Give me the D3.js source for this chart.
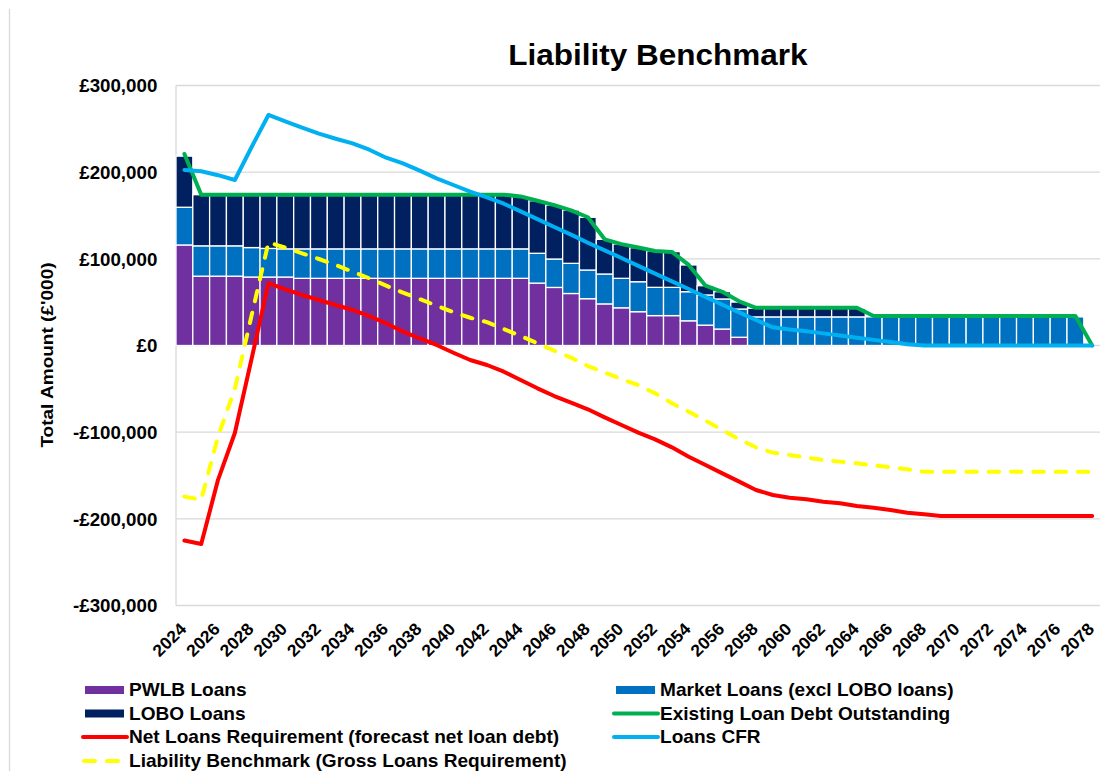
<!DOCTYPE html>
<html><head><meta charset="utf-8">
<script src="https://cdn.jsdelivr.net/npm/d3@7"></script>
<style>
body{margin:0;background:#fff;}
svg text{font-family:"Liberation Sans",Arial,sans-serif;font-weight:bold;fill:#000;}
</style>
</head><body>
<svg id="chart" width="1100" height="771"></svg>
<script>
// ---------------- DATA ----------------
const years = ["2024","2025","2026","2027","2028","2029","2030","2031","2032","2033","2034","2035","2036","2037","2038","2039","2040","2041","2042","2043","2044","2045","2046","2047","2048","2049","2050","2051","2052","2053","2054","2055","2056","2057","2058","2059","2060","2061","2062","2063","2064","2065","2066","2067","2068","2069","2070","2071","2072","2073","2074","2075","2076","2077","2078"];
const xTickLabels = ["2024","2026","2028","2030","2032","2034","2036","2038","2040","2042","2044","2046","2048","2050","2052","2054","2056","2058","2060","2062","2064","2066","2068","2070","2072","2074","2076","2078"];
const yTickValues = [300000,200000,100000,0,-100000,-200000,-300000];
const yTickLabels = ["£300,000","£200,000","£100,000","£0","-£100,000","-£200,000","-£300,000"];

const pwlb = [116000,80000,80000,80000,79000,79000,79000,77500,77500,77500,77500,77500,77500,77500,77500,77500,77500,77500,77500,77500,77500,72000,67000,60000,54000,48000,43500,39000,34500,34500,28500,23500,19000,9500,0,0,0,0,0,0,0,0,0,0,0,0,0,0,0,0,0,0,0,0,0];
const market = [43500,35000,35000,35000,34000,33000,32500,34000,34000,34000,34000,34000,34000,34000,34000,34000,34000,34000,34000,34000,34000,34400,32800,34800,33100,34500,34000,34600,32600,32600,33600,34800,34700,32600,33000,33000,33000,33000,33000,33000,33000,33000,33000,33000,33000,33000,33000,33000,33000,33000,33000,33000,33000,33000,0];
const lobo = [59000,59000,59000,59000,61500,61500,61500,62300,62300,62300,62300,62300,62300,62300,62300,62300,62300,62300,62300,62300,60400,60600,62200,61500,60800,40000,39600,39300,41900,41200,30800,10700,8400,8000,10000,10000,10000,10000,10000,10000,10000,0,0,0,0,0,0,0,0,0,0,0,0,0,0];
const existingDebt = [221000,174000,174000,174000,174000,174000,174000,174000,174000,174000,174000,174000,174000,174000,174000,174000,174000,174000,174000,174000,172000,167000,162000,156000,148000,122500,117000,113000,109000,108000,93000,69000,62000,51000,43500,43500,43500,43500,43500,43500,43500,34000,34000,34000,34000,34000,34000,34000,34000,34000,34000,34000,34000,34000,0];
const netLoansReq = [-225000,-229000,-155000,-101000,-15000,72000,64800,58300,52500,46700,41000,34000,25600,16000,8300,600,-8300,-16700,-22500,-30200,-39800,-49400,-58300,-66000,-73600,-82900,-91700,-100600,-108300,-117500,-128300,-137900,-147500,-157100,-166700,-172500,-175600,-177500,-180200,-182000,-185200,-187100,-189800,-192900,-194800,-196700,-196700,-196700,-196700,-196700,-196700,-196700,-196700,-196700,-196700];
const loansCFR = [202500,201000,196500,191000,229000,266000,258700,251300,244400,238600,233300,225900,216700,210200,201700,192900,185200,177500,171000,163600,154800,145800,136700,127900,118600,109800,101000,91900,83000,74000,65200,56000,47000,38300,29400,21000,18500,16500,14000,11500,9000,6500,4000,1500,0,0,0,0,0,0,0,0,0,0,0];
const liabilityBenchmark = [-174400,-178000,-105000,-50000,35000,119000,112900,106400,99800,92900,85200,77500,69000,61000,53500,46000,38500,32000,27000,19000,11000,2500,-6000,-14000,-23700,-31300,-38700,-45600,-55200,-66700,-76400,-86700,-97500,-108300,-117500,-123600,-126300,-129400,-132100,-134000,-135900,-138300,-140600,-142900,-145600,-145600,-145600,-145600,-145600,-145600,-145600,-145600,-145600,-145600,-145600];

const barKeys = ["pwlb","market","lobo"];
const barColors = {pwlb:"#7030A0", market:"#0070C0", lobo:"#002060"};
const legendItems = [
  {name:"PWLB Loans", type:"rect", color:"#7030A0", col:0, row:0},
  {name:"Market Loans (excl LOBO loans)", type:"rect", color:"#0070C0", col:1, row:0},
  {name:"LOBO Loans", type:"rect", color:"#002060", col:0, row:1},
  {name:"Existing Loan Debt Outstanding", type:"line", color:"#00B050", col:1, row:1},
  {name:"Net Loans Requirement (forecast net loan debt)", type:"line", color:"#FF0000", col:0, row:2},
  {name:"Loans CFR", type:"line", color:"#00B0F0", col:1, row:2},
  {name:"Liability Benchmark (Gross Loans Requirement)", type:"dash", color:"#FFFF00", col:0, row:3}
];

// ---------------- CHART ----------------
const svg = d3.select("#chart");
const plotL = 176, plotR = 1100.6, plotT = 85.5, plotB = 605.5;
const x = d3.scaleBand().domain(years).range([plotL, plotR]).padding(0);
const y = d3.scaleLinear().domain([-300000, 300000]).range([plotB, plotT]);
const bw = x.bandwidth();

// outer chart border (left edge visible)
svg.append("line").attr("x1",9.5).attr("x2",9.5).attr("y1",9).attr("y2",771)
  .attr("stroke","#d9d9d9").attr("stroke-width",1.3);

// title
svg.append("text").attr("transform","translate(658,65) scale(1.05,1)")
  .attr("text-anchor","middle").style("font-size","30px").text("Liability Benchmark");

// gridlines
svg.append("g").selectAll("line").data(yTickValues).join("line")
  .attr("x1",plotL).attr("x2",plotR).attr("y1",d=>y(d)).attr("y2",d=>y(d))
  .attr("stroke","#d9d9d9").attr("stroke-width",1.3);
svg.append("line").attr("x1",plotL).attr("x2",plotL).attr("y1",plotT).attr("y2",plotB)
  .attr("stroke","#d9d9d9").attr("stroke-width",1.3);

// stacked bars
const table = years.map((yr,i)=>({year:yr, pwlb:pwlb[i], market:market[i], lobo:lobo[i]}));
const stacked = d3.stack().keys(barKeys)(table);
svg.append("g").selectAll("g").data(stacked).join("g")
  .attr("fill",d=>barColors[d.key])
  .selectAll("rect").data(d=>d.filter(p=>p[1]-p[0]>0)).join("rect")
  .attr("x",d=>x(d.data.year)).attr("width",bw)
  .attr("y",d=>y(d[1])).attr("height",d=>y(d[0])-y(d[1]))
  .attr("stroke","#ffffff").attr("stroke-width",1.3);

// lines
const line = d3.line().x((d,i)=>x(years[i])+bw/2).y(d=>y(d));
function drawLine(data,color,dash){
  const p = svg.append("path").datum(data).attr("d",line).attr("fill","none")
    .attr("stroke",color).attr("stroke-width",4).attr("stroke-linejoin","round")
    .attr("stroke-linecap","round");
  if(dash) p.attr("stroke-dasharray",dash);
}
drawLine(existingDebt,"#00B050");
drawLine(netLoansReq,"#FF0000");
drawLine(loansCFR,"#00B0F0");
drawLine(liabilityBenchmark,"#FFFF00","10.5 11.8");

// y axis
const yAxis = d3.axisLeft(y).tickValues(yTickValues)
  .tickFormat((d,i)=>yTickLabels[i]).tickSize(0).tickPadding(0);
const ya = svg.append("g").attr("transform",`translate(${plotL},0)`).call(yAxis);
ya.select(".domain").remove();
ya.selectAll("text").attr("x",-18.7/1.07).attr("dy","0.36em")
  .attr("transform","scale(1.07,1)").style("font-size","17.5px")
  .style("font-family","'Liberation Sans',Arial,sans-serif").style("font-weight","bold").attr("fill","#000");

// x axis
const xAxis = d3.axisBottom(x).tickValues(xTickLabels).tickSize(0).tickPadding(0);
const xa = svg.append("g").attr("transform",`translate(0,${plotB})`).call(xAxis);
xa.select(".domain").remove();
xa.selectAll("text").attr("x",0).attr("y",0).attr("dy",null)
  .attr("text-anchor","end")
  .attr("transform","translate(3,24.5) rotate(-45) scale(1.04,1)")
  .style("font-size","17px").style("font-family","'Liberation Sans',Arial,sans-serif")
  .style("font-weight","bold").attr("fill","#000");

// y axis title
svg.append("text").attr("transform","translate(53,355) rotate(-90) scale(1.12,1)")
  .attr("text-anchor","middle").style("font-size","17px").text("Total Amount (£'000)");

// legend
const colX = [{sw:83, tx:129},{sw:614, tx:660}];
const rowY = [690, 713.5, 737, 761];
const lg = svg.append("g");
legendItems.forEach(it=>{
  const sx = colX[it.col].sw, cy = rowY[it.row];
  if(it.type==="rect"){
    lg.append("rect").attr("x",sx+2).attr("y",cy-4).attr("width",39).attr("height",8).attr("fill",it.color);
  } else if(it.type==="line"){
    lg.append("line").attr("x1",sx).attr("x2",sx+44).attr("y1",cy).attr("y2",cy)
      .attr("stroke",it.color).attr("stroke-width",4).attr("stroke-linecap","round");
  } else {
    lg.append("line").attr("x1",sx+1).attr("x2",sx+40).attr("y1",cy).attr("y2",cy)
      .attr("stroke",it.color).attr("stroke-width",4).attr("stroke-linecap","round")
      .attr("stroke-dasharray","11 12");
  }
  lg.append("text").attr("transform",`translate(${colX[it.col].tx},${cy+6.3}) scale(1.09,1)`)
    .style("font-size","17.5px").text(it.name);
});
</script>
</body></html>
